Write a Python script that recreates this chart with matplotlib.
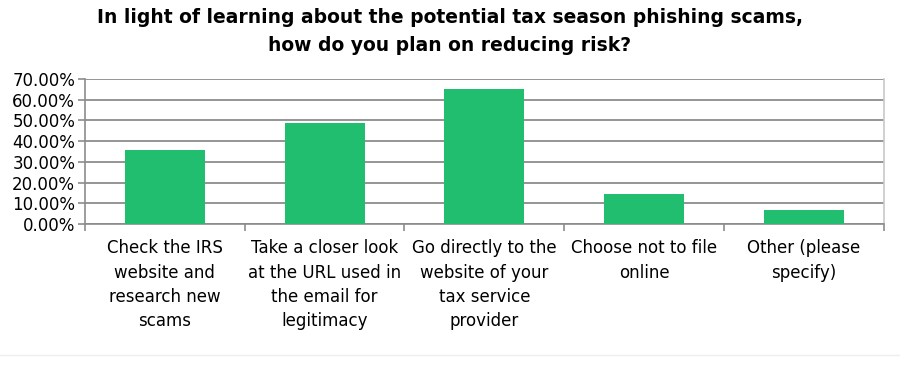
import numpy as np
import matplotlib
matplotlib.use("Agg")
import matplotlib.pyplot as plt
from matplotlib.ticker import FixedLocator, NullFormatter

plt.rcParams['font.family'] = ['DejaVu Sans']

# data
categories = [
    "Check the IRS\nwebsite and\nresearch new\nscams",
    "Take a closer look\nat the URL used in\nthe email for\nlegitimacy",
    "Go directly to the\nwebsite of your\ntax service\nprovider",
    "Choose not to file\nonline",
    "Other (please\nspecify)",
]
values = [35.7, 48.6, 65.2, 14.3, 6.9]
yticks = [0, 10, 20, 30, 40, 50, 60, 70]
title = ("In light of learning about the potential tax season phishing scams,\n"
         "how do you plan on reducing risk?")

bar_color = "#21BE6F"
grid_color = "#8c8c8c"

fig = plt.figure(figsize=(9, 3.7), dpi=100)
ax = fig.add_axes([0.0944, 0.3946, 0.8876, 0.3919])

x = np.arange(len(categories))
ax.bar(x, values, width=0.5, color=bar_color, zorder=3)

ax.set_xlim(-0.5, len(categories) - 0.5)
ax.set_ylim(0, 70)
ax.set_yticks(yticks)
ax.set_yticklabels([f"{v:.2f}%" for v in yticks], fontsize=12)
ax.yaxis.grid(True, color=grid_color, linewidth=1.3, zorder=0)

# category labels centred, ticks on boundaries
ax.xaxis.set_major_locator(FixedLocator(np.arange(-0.5, len(categories), 1.0)))
ax.xaxis.set_major_formatter(NullFormatter())
ax.xaxis.set_minor_locator(FixedLocator(x))
ax.set_xticklabels(categories, minor=True, fontsize=12, linespacing=1.45,
                   va="top")
ax.tick_params(axis="x", which="minor", length=0, pad=11)
ax.tick_params(axis="x", which="major", length=5, color=grid_color, width=1.2)
ax.tick_params(axis="y", length=5, color=grid_color, width=1.2, pad=2)

ax.spines["top"].set_visible(False)
ax.spines["left"].set_color(grid_color)
ax.spines["bottom"].set_color(grid_color)
ax.spines["right"].set_color("#c8c8c8")
for s in ["left", "bottom", "right"]:
    ax.spines[s].set_linewidth(1.2)

fig.text(0.5, 0.978, title, ha="center", va="top", fontsize=13.5,
         fontweight="bold", linespacing=1.6)

# faint separator near the bottom
fig.add_artist(plt.Line2D([0.0, 1.0], [0.04, 0.04], color="#eeeeee",
                          linewidth=1, transform=fig.transFigure))

fig.savefig("out.png", dpi=100)
